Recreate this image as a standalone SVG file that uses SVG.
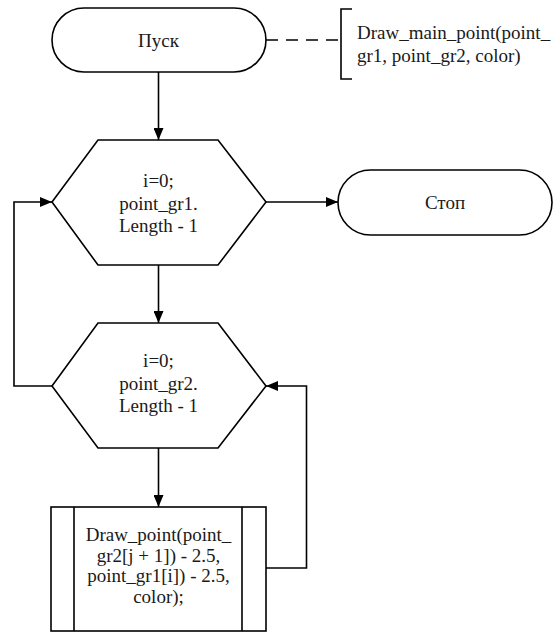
<svg xmlns="http://www.w3.org/2000/svg" width="553" height="632" viewBox="0 0 553 632">
  <style>
    .shape { fill: #ffffff; stroke: #000000; stroke-width: 1.6; }
    .line { fill: none; stroke: #000000; stroke-width: 1.6; }
    .dash { fill: none; stroke: #000000; stroke-width: 1.6; stroke-dasharray: 12 8; }
    .txt { font-family: 'Liberation Serif', 'DejaVu Serif', serif; font-size: 19px; fill: #1a1a1a; text-anchor: middle; }
    .note { font-family: 'Liberation Serif', 'DejaVu Serif', serif; font-size: 19px; fill: #1a1a1a; text-anchor: start; }
  </style>
  <defs>
    <marker id="arrow" viewBox="0 0 12 10" refX="12" refY="5" markerWidth="12" markerHeight="10" markerUnits="userSpaceOnUse" orient="auto">
      <path d="M0,0 L12,5 L0,10 Z" fill="#000000"/>
    </marker>
  </defs>
  <rect width="553" height="632" fill="#ffffff"/>

  <g id="connectors">
    <!-- start to first loop -->
    <path class="line" d="M158.5,72 V140" marker-end="url(#arrow)"/>
    <!-- first loop exit to stop -->
    <path class="line" d="M266,202 H338" marker-end="url(#arrow)"/>
    <!-- first loop body to second loop -->
    <path class="line" d="M158.5,265 V323" marker-end="url(#arrow)"/>
    <!-- second loop exit back to first loop -->
    <path class="line" d="M52,386 H14 V202 H52" marker-end="url(#arrow)"/>
    <!-- second loop body to process -->
    <path class="line" d="M158.5,448 V507" marker-end="url(#arrow)"/>
    <!-- process back to second loop -->
    <path class="line" d="M266,568 H306.5 V386 H266" marker-end="url(#arrow)"/>
    <!-- annotation link -->
    <path class="dash" d="M266,40 H341"/>
  </g>

  <g id="start">
    <rect class="shape" x="52" y="8" width="214" height="64" rx="32" ry="32"/>
    <text class="txt" x="158.5" y="47">Пуск</text>
  </g>

  <g id="annotation">
    <path class="line" d="M352,9 H341 V79 H352"/>
    <text class="note" x="357" y="39">Draw_main_point(point_</text>
    <text class="note" x="357" y="62">gr1, point_gr2, color)</text>
  </g>

  <g id="loop-outer">
    <polygon class="shape" points="52,202 98,140 218,140 266,202 218,265 98,265"/>
    <text class="txt" x="158.5" y="187">i=0;</text>
    <text class="txt" x="158.5" y="210">point_gr1.</text>
    <text class="txt" x="158.5" y="232">Length - 1</text>
  </g>

  <g id="stop">
    <rect class="shape" x="338" y="170" width="214" height="65" rx="32.5" ry="32.5"/>
    <text class="txt" x="445" y="209">Стоп</text>
  </g>

  <g id="loop-inner">
    <polygon class="shape" points="52,386 98,323 218,323 266,386 218,448 98,448"/>
    <text class="txt" x="158.5" y="367">i=0;</text>
    <text class="txt" x="158.5" y="390">point_gr2.</text>
    <text class="txt" x="158.5" y="412">Length - 1</text>
  </g>

  <g id="draw-point">
    <rect class="shape" x="51" y="507" width="215" height="124"/>
    <path class="line" d="M74,507 V631 M242,507 V631"/>
    <text class="txt" x="158.5" y="541">Draw_point(point_</text>
    <text class="txt" x="158.5" y="561.5">gr2[j + 1]) - 2.5,</text>
    <text class="txt" x="158.5" y="582">point_gr1[i]) - 2.5,</text>
    <text class="txt" x="158.5" y="602.5">color);</text>
  </g>
</svg>
